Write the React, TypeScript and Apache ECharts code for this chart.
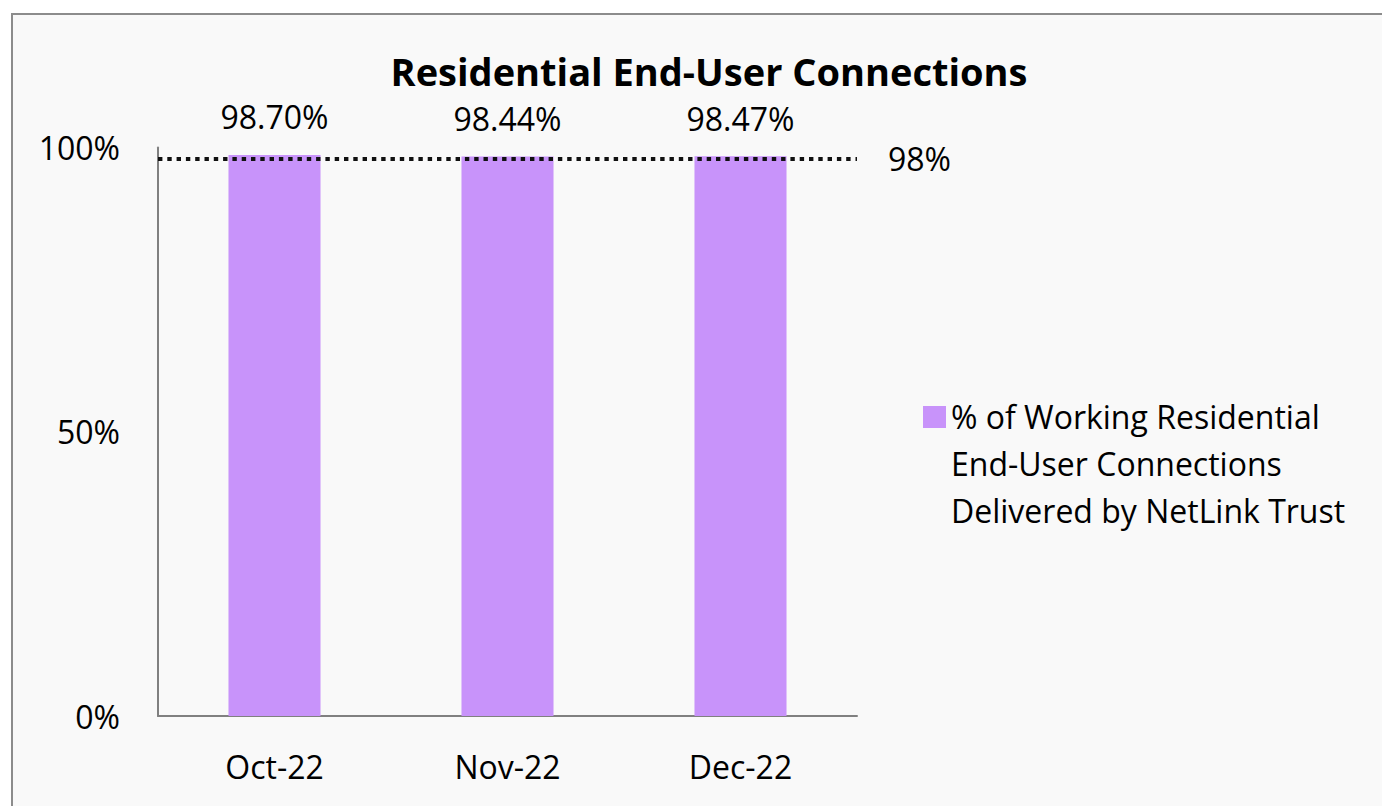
import React, { useEffect, useRef } from "react";
import * as echarts from "echarts";

const categories = ["Oct-22", "Nov-22", "Dec-22"];
const values = [98.7, 98.44, 98.47];
const targetValue = 98;
const seriesName = "% of Working Residential\nEnd-User Connections\nDelivered by NetLink Trust";
const titleText = "Residential End-User Connections";

const FONT = "'Open Sans', sans-serif";
const FS = 32;

// legend marker: square aligned with first text line (tiny corner points fix the bounding box)
const legendIcon =
  "path://M0,0h0.01v0.01h-0.01Z M0,13.5h23v22h-23Z M0,140.99h0.01v0.01h-0.01Z";

export default function App() {
  const ref = useRef<HTMLDivElement>(null);
  useEffect(() => {
    const chart = echarts.init(ref.current!, null, { renderer: "svg" });
    chart.setOption({
      animation: false,
      backgroundColor: "#ffffff",
      textStyle: { fontFamily: FONT },
      graphic: [
        {
          type: "rect",
          z: -10,
          silent: true,
          shape: { x: 12, y: 14, width: 1400, height: 820 },
          style: { fill: "#f9f9f9", stroke: "#8c8c8c", lineWidth: 2 },
        },
      ],
      title: {
        text: titleText,
        left: 704,
        textAlign: "center",
        top: 47,
        textStyle: { fontFamily: FONT, fontWeight: "bold", fontSize: 38, color: "#000" },
      },
      grid: { left: 158, right: 525, top: 147.6, bottom: 90, containLabel: false },
      legend: {
        left: 918,
        top: 387.5,
        itemWidth: 23,
        itemHeight: 141,
        itemGap: 0,
        icon: legendIcon,
        selectedMode: false,
        textStyle: {
          fontFamily: FONT,
          fontSize: FS,
          color: "#000",
          lineHeight: 47,
        },
        itemStyle: { color: "#c893fa" },
        data: [seriesName],
      },
      xAxis: {
        type: "category",
        data: categories,
        axisLine: { show: true, lineStyle: { color: "#808080", width: 2 } },
        axisTick: { show: false },
        axisLabel: { fontFamily: FONT, fontSize: FS, color: "#000", margin: 34 },
      },
      yAxis: {
        type: "value",
        min: 0,
        max: 100,
        interval: 50,
        axisLine: { show: true, lineStyle: { color: "#808080", width: 2 } },
        axisTick: { show: false },
        splitLine: { show: false },
        axisLabel: {
          fontFamily: FONT,
          fontSize: FS,
          color: "#000",
          margin: 38,
          formatter: (v: number) => `${v}%`,
        },
      },
      series: [
        {
          name: seriesName,
          type: "bar",
          data: values,
          barWidth: "39.5%",
          itemStyle: { color: "#c893fa" },
          label: {
            show: true,
            position: "top",
            distance: 22,
            fontFamily: FONT,
            fontSize: FS,
            color: "#000",
            formatter: (p: any) => `${p.value.toFixed(2)}%`,
          },
          markLine: {
            silent: true,
            symbol: "none",
            lineStyle: { color: "#111", width: 4.2, type: [4.4, 4.9], cap: "butt" },
            label: {
              show: true,
              position: "end",
              distance: 31,
              fontFamily: FONT,
              fontSize: FS,
              color: "#000",
              formatter: `${targetValue}%`,
            },
            data: [{ yAxis: targetValue }],
          },
        },
      ],
    });
    return () => chart.dispose();
  }, []);
  return (
    <div
      ref={ref}
      style={{ position: "fixed", left: 0, top: 0, width: 1382, height: 806 }}
    />
  );
}
